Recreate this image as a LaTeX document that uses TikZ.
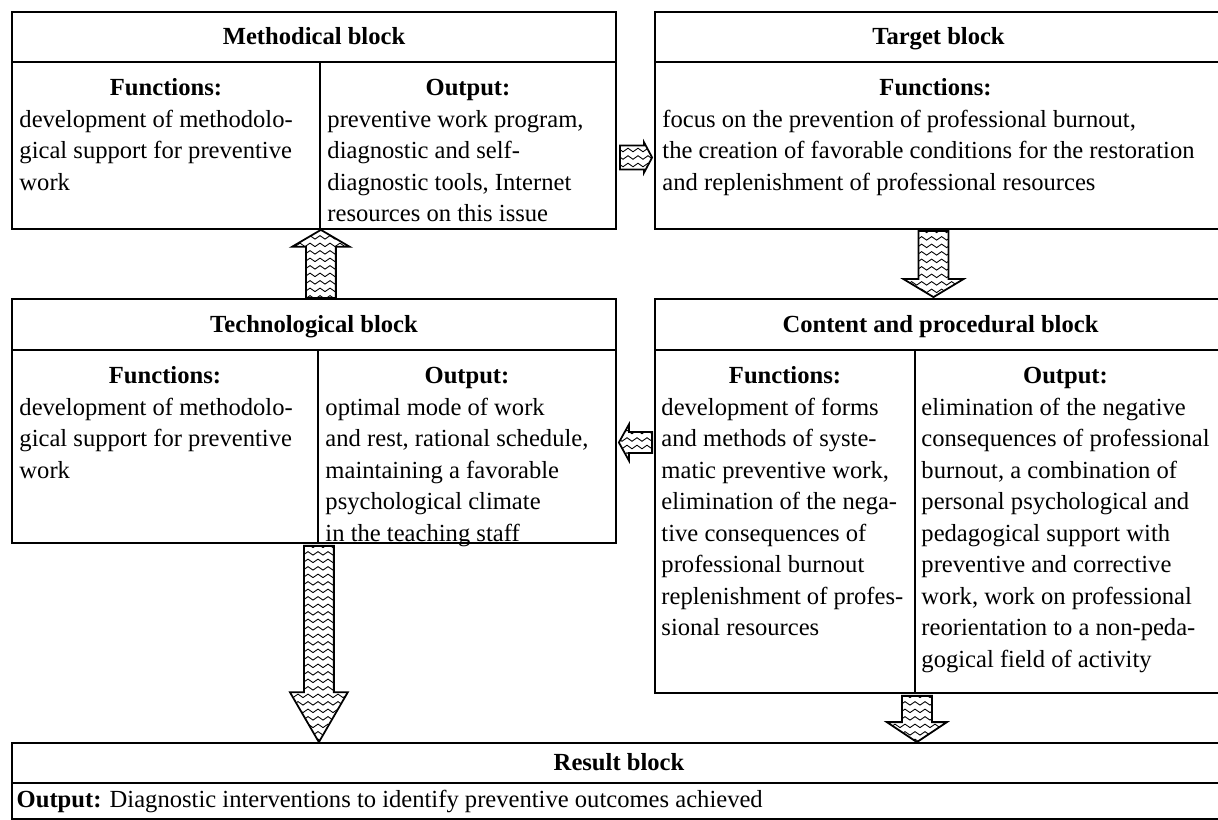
\documentclass[tikz,border=0pt]{standalone}
\usepackage{fontspec}
\setmainfont{Liberation Serif}
\usetikzlibrary{positioning, fit, calc, decorations.pathmorphing}

\newcommand{\diagfont}{\fontsize{14}{17.9}\selectfont}
% block arrow with a wavy filling: start, end, body half width, head half width, head length
\newcommand{\wavearrow}[5]{%
  \coordinate (wa-base) at ($(#2)!#5!(#1)$);
  \draw[wavyarrow] ($(#1)!#3!90:(#2)$) -- ($(wa-base)!#3!90:(#2)$) -- ($(wa-base)!#4!90:(#2)$) -- (#2)
    -- ($(wa-base)!#4!-90:(#2)$) -- ($(wa-base)!#3!-90:(#2)$) -- ($(#1)!#3!-90:(#2)$) -- cycle;
}

\begin{document}
\begin{tikzpicture}[
  x=0.02cm, y=-0.02cm,
  every node/.append style={font=\diagfont},
  blockbox/.style={draw, line width=1pt, inner sep=0pt},
  title/.style={anchor=base, inner sep=0pt, font=\diagfont\bfseries},
  colhead/.style={anchor=base, inner sep=0pt, font=\diagfont\bfseries},
  txt/.style={anchor=north west, inner sep=0pt, align=left},
  wavyarrow/.style={draw, fill=white, line width=1pt, line join=miter,
    path picture={
      \foreach \k in {0,...,34}
        \draw[line width=0.5pt, decorate, decoration={snake, segment length=2mm, amplitude=0.35mm}]
          ([xshift=-1mm, yshift=-\k*1.5mm]path picture bounding box.north west) --
          ([xshift=1mm, yshift=-\k*1.5mm]path picture bounding box.north east);
    }}
]
  \useasboundingbox (0,0) rectangle (1218,820);

  % Methodical block
  \node[blockbox, fit={(12,12) (616,62)}] (methhead) {};
  \node[title] at ($(methhead.center)+(0,8)$) (methtitle) {Methodical block};
  \node[blockbox, fit={(12,62) (320,229)}] (methfun) {};
  \node[blockbox, fit={(320,62) (616,229)}] (methout) {};
  \node[colhead] at ($(methfun.north)+(0,34)$) (methfunhd) {Functions:};
  \node[txt] at ($(methfun.north west)+(8,44)$) (methfuntxt)
    {\strut development of methodolo-\\gical support for preventive\\work};
  \node[colhead] at ($(methout.north)+(0,34)$) (methouthd) {Output:};
  \node[txt] at ($(methout.north west)+(8,44)$) (methouttxt)
    {\strut preventive work program,\\diagnostic and self-\\diagnostic tools, Internet\\resources on this issue};

  % Target block
  \node[blockbox, fit={(655,12) (1226,62)}] (targhead) {};
  \node[title] at ($(targhead.center)+(-2,8)$) (targtitle) {Target block};
  \node[blockbox, fit={(655,62) (1226,229)}] (targbody) {};
  \node[colhead] at ($(targbody.north)+(-5,34)$) (targhd) {Functions:};
  \node[txt] at ($(targbody.north west)+(8,44)$) (targtxt)
    {\strut focus on the prevention of professional burnout,\\the creation of favorable conditions for the restoration\\and replenishment of professional resources};

  % Technological block
  \node[blockbox, fit={(12,299) (616,350)}] (techhead) {};
  \node[title] at ($(techhead.center)+(0,8)$) (techtitle) {Technological block};
  \node[blockbox, fit={(12,350) (318,543)}] (techfun) {};
  \node[blockbox, fit={(318,350) (616,543)}] (techout) {};
  \node[colhead] at ($(techfun.north)+(0,34)$) (techfunhd) {Functions:};
  \node[txt] at ($(techfun.north west)+(8,44)$) (techfuntxt)
    {\strut development of methodolo-\\gical support for preventive\\work};
  \node[colhead] at ($(techout.north)+(0,34)$) (techouthd) {Output:};
  \node[txt] at ($(techout.north west)+(8,44)$) (techouttxt)
    {\strut optimal mode of work\\and rest, rational schedule,\\maintaining a favorable\\psychological climate\\in the teaching staff};

  % Content and procedural block
  \node[blockbox, fit={(655,299) (1226,350)}] (conthead) {};
  \node[title] at ($(conthead.center)+(0,8)$) (conttitle) {Content and procedural block};
  \node[blockbox, fit={(655,350) (915,693)}] (contfun) {};
  \node[blockbox, fit={(915,350) (1226,693)}] (contout) {};
  \node[colhead] at ($(contfun.north)+(0,34)$) (contfunhd) {Functions:};
  \node[txt] at ($(contfun.north west)+(7,44)$) (contfuntxt)
    {\strut development of forms\\and methods of syste-\\matic preventive work,\\elimination of the nega-\\tive consequences of\\professional burnout\\replenishment of profes-\\sional resources};
  \node[colhead] at ($(contout.north)+(-5,34)$) (contouthd) {Output:};
  \node[txt] at ($(contout.north west)+(7,44)$) (contouttxt)
    {\strut elimination of the negative\\consequences of professional\\burnout, a combination of\\personal psychological and\\pedagogical support with\\preventive and corrective\\work, work on professional\\reorientation to a non-peda-\\gogical field of activity};

  % Result block
  \node[blockbox, fit={(12,743) (1226,783)}] (reshead) {};
  \node[title] at ($(reshead.center)+(0,8)$) (restitle) {Result block};
  \node[blockbox, fit={(12,783) (1226,819)}] (resbody) {};
  \node[anchor=west, inner sep=0pt] at ([xshift=3]resbody.west) (restxt)
    {\textbf{Output:} Diagnostic interventions to identify preventive outcomes achieved};

  % arrows
  \coordinate (ra1) at ($(methout.east)+(3,12)$);
  \coordinate (ra2) at ($(targbody.west)+(-2,12)$);
  \wavearrow{ra1}{ra2}{0.24cm}{0.3cm}{0.16cm}
  \coordinate (ua1) at (techhead.north -| methfun.south east);
  \wavearrow{ua1}{methfun.south east}{0.3cm}{0.58cm}{0.34cm}
  \coordinate (da1) at ($(targbody.south)+(-7,1)$);
  \coordinate (da2) at ($(conthead.north)+(-7,-1)$);
  \wavearrow{da1}{da2}{0.3cm}{0.6cm}{0.36cm}
  \coordinate (la1) at ($(contfun.west |- techout.east)+(-2,-4)$);
  \coordinate (la2) at ($(techout.east)+(2,-4)$);
  \wavearrow{la1}{la2}{0.21cm}{0.36cm}{0.2cm}
  \coordinate (ta1) at ($(techfun.south east)+(0,2)$);
  \coordinate (ta2) at (reshead.north -| techfun.south east);
  \wavearrow{ta1}{ta2}{0.3cm}{0.58cm}{1cm}
  \coordinate (ca1) at ($(contfun.south east)+(1,2)$);
  \coordinate (ca2) at (reshead.north -| ca1);
  \wavearrow{ca1}{ca2}{0.3cm}{0.6cm}{0.4cm}
\end{tikzpicture}
\end{document}
